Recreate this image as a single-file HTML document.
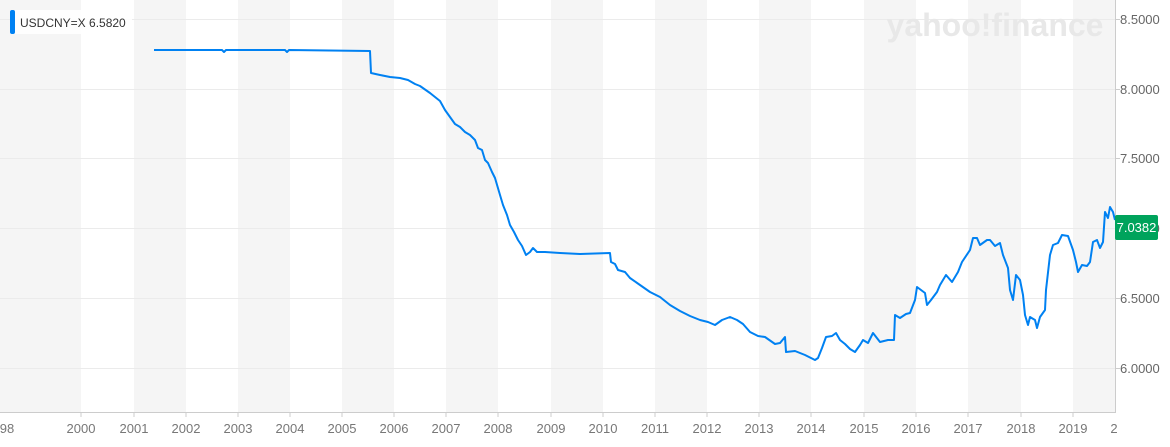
<!DOCTYPE html>
<html><head><meta charset="utf-8"><style>
body{margin:0;background:#fff;width:1170px;height:442px;overflow:hidden;font-family:"Liberation Sans",sans-serif}
</style></head><body>
<svg width="1170" height="442" xmlns="http://www.w3.org/2000/svg" font-family="Liberation Sans, sans-serif">
<g fill="#f5f5f5">
<rect x="0" y="0" width="81" height="412"/>
<rect x="134" y="0" width="52" height="412"/>
<rect x="238" y="0" width="52" height="412"/>
<rect x="342" y="0" width="52" height="412"/>
<rect x="446" y="0" width="52" height="412"/>
<rect x="551" y="0" width="52" height="412"/>
<rect x="655" y="0" width="52" height="412"/>
<rect x="759" y="0" width="52" height="412"/>
<rect x="864" y="0" width="52" height="412"/>
<rect x="968" y="0" width="53" height="412"/>
<rect x="1073" y="0" width="42" height="412"/>
</g>
<g stroke="#ebebeb" stroke-width="1">
<line x1="0" x2="1115" y1="19.5" y2="19.5"/>
<line x1="0" x2="1115" y1="89.5" y2="89.5"/>
<line x1="0" x2="1115" y1="158.5" y2="158.5"/>
<line x1="0" x2="1115" y1="228.5" y2="228.5"/>
<line x1="0" x2="1115" y1="298.5" y2="298.5"/>
<line x1="0" x2="1115" y1="368.5" y2="368.5"/>
</g>
<text x="995" y="36" text-anchor="middle" font-size="32" font-weight="bold" fill="#e8e8e8">yahoo!finance</text>
<line x1="0" x2="1116" y1="412.5" y2="412.5" stroke="#ccc"/>
<line x1="1115.5" x2="1115.5" y1="0" y2="413" stroke="#ccc"/>
<g stroke="#ccc">
<line x1="81" x2="81" y1="412" y2="417"/><line x1="134" x2="134" y1="412" y2="417"/><line x1="186" x2="186" y1="412" y2="417"/><line x1="238" x2="238" y1="412" y2="417"/><line x1="290" x2="290" y1="412" y2="417"/><line x1="342" x2="342" y1="412" y2="417"/><line x1="394" x2="394" y1="412" y2="417"/><line x1="446" x2="446" y1="412" y2="417"/><line x1="498" x2="498" y1="412" y2="417"/><line x1="551" x2="551" y1="412" y2="417"/><line x1="603" x2="603" y1="412" y2="417"/><line x1="655" x2="655" y1="412" y2="417"/><line x1="707" x2="707" y1="412" y2="417"/><line x1="759" x2="759" y1="412" y2="417"/><line x1="811" x2="811" y1="412" y2="417"/><line x1="864" x2="864" y1="412" y2="417"/><line x1="916" x2="916" y1="412" y2="417"/><line x1="968" x2="968" y1="412" y2="417"/><line x1="1021" x2="1021" y1="412" y2="417"/><line x1="1073" x2="1073" y1="412" y2="417"/>
<line x1="1115" x2="1120" y1="19.5" y2="19.5"/><line x1="1115" x2="1120" y1="89.5" y2="89.5"/><line x1="1115" x2="1120" y1="158.5" y2="158.5"/><line x1="1115" x2="1120" y1="228.5" y2="228.5"/><line x1="1115" x2="1120" y1="298.5" y2="298.5"/><line x1="1115" x2="1120" y1="368.5" y2="368.5"/>
</g>
<g font-size="13" fill="#777" text-anchor="middle">
<text x="7" y="433">98</text>
<text x="81" y="433">2000</text><text x="134" y="433">2001</text><text x="186" y="433">2002</text><text x="238" y="433">2003</text><text x="290" y="433">2004</text><text x="342" y="433">2005</text><text x="394" y="433">2006</text><text x="446" y="433">2007</text><text x="498" y="433">2008</text><text x="551" y="433">2009</text><text x="603" y="433">2010</text><text x="655" y="433">2011</text><text x="707" y="433">2012</text><text x="759" y="433">2013</text><text x="811" y="433">2014</text><text x="864" y="433">2015</text><text x="916" y="433">2016</text><text x="968" y="433">2017</text><text x="1021" y="433">2018</text><text x="1073" y="433">2019</text><text x="1114" y="433">2</text>
</g>
<g font-size="13" fill="#666">
<text x="1120" y="24">8.5000</text><text x="1120" y="94">8.0000</text><text x="1120" y="163">7.5000</text><text x="1120" y="233">7.0000</text><text x="1120" y="303">6.5000</text><text x="1120" y="373">6.0000</text>
</g>
<polyline fill="none" stroke="#0081f2" stroke-width="2" stroke-linejoin="round" points="154,50 222,50 224,52 226,50 285,50 287,52 289,50 370,51 371,73 380,75 390,77 400,78 408,80 415,84 420,86 430,93 435,97 440,101 445,110 450,117 455,124 460,127 465,132 470,135 475,140 478,148 482,150 485,160 488,163 492,172 495,178 500,195 503,205 507,215 510,225 514,232 518,240 522,246 526,255 530,252 533,248 537,252 545,252 560,253 580,254 610,253 611,262 615,264 618,270 625,272 630,278 640,285 650,292 660,297 670,305 680,311 690,316 700,320 708,322 715,325 722,320 730,317 737,320 743,324 750,332 758,336 765,337 775,344 780,343 785,337 786,352 795,351 805,355 815,360 818,358 822,348 826,337 832,336 836,333 840,340 845,344 850,349 855,352 860,345 863,340 868,343 873,333 880,342 888,340 894,340 895,315 900,318 906,314 910,313 915,300 917,287 925,293 927,305 931,300 937,292 940,285 946,275 952,282 958,272 962,262 970,250 973,238 977,238 980,245 987,240 990,240 995,246 1000,243 1003,255 1008,268 1010,290 1013,300 1016,275 1020,280 1023,295 1025,315 1028,325 1030,317 1035,320 1037,328 1040,317 1045,310 1046,290 1050,255 1053,245 1058,243 1062,235 1068,236 1073,250 1076,262 1078,272 1082,265 1087,266 1090,262 1093,242 1097,240 1100,248 1103,242 1105,212 1108,218 1110,207 1113,212 1115,220"/>
<rect x="1115" y="215" width="43" height="25" rx="2" fill="#00a35c"/>
<text x="1136.5" y="232" font-size="13" fill="#fff" text-anchor="middle">7.0382</text>
<rect x="10" y="10" width="122" height="24" fill="#fff" opacity="0.9"/>
<rect x="10" y="10" width="5" height="24" rx="2" fill="#0081f2"/>
<text x="20" y="27" font-size="12" fill="#333">USDCNY=X  6.5820</text>
</svg>
</body></html>
